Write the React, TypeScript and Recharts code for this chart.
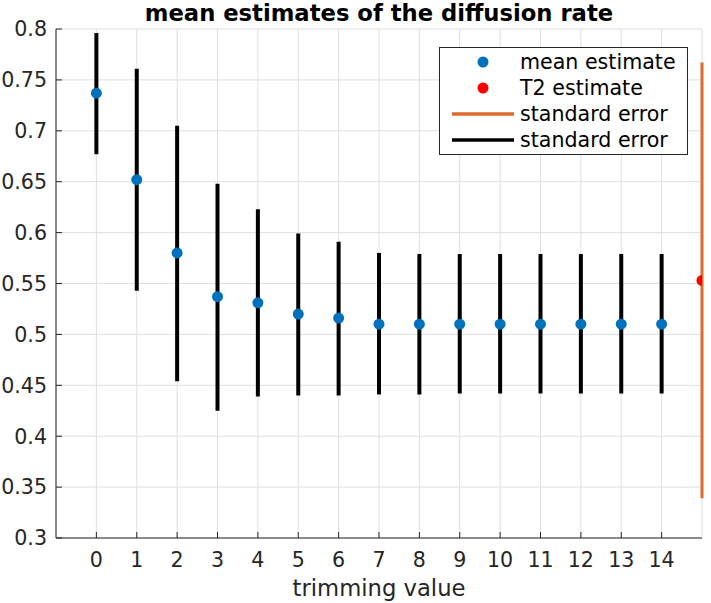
import React from 'react';
import { ComposedChart, Scatter, ErrorBar, XAxis, YAxis, CartesianGrid } from 'recharts';

// values
const trimming = [0, 1, 2, 3, 4, 5, 6, 7, 8, 9, 10, 11, 12, 13, 14];
const meanEstimate = [0.737, 0.652, 0.58, 0.537, 0.531, 0.52, 0.516, 0.51, 0.51, 0.51, 0.51, 0.51, 0.51, 0.51, 0.51];
const seLow = [0.677, 0.543, 0.454, 0.425, 0.439, 0.44, 0.44, 0.441, 0.441, 0.442, 0.442, 0.442, 0.442, 0.442, 0.442];
const seHigh = [0.796, 0.761, 0.705, 0.648, 0.623, 0.599, 0.591, 0.58, 0.579, 0.579, 0.579, 0.579, 0.579, 0.579, 0.579];

const t2Position = 15;
const t2Estimate = 0.553;
const t2Low = 0.339;
const t2High = 0.767;

const xTicks = [0, 1, 2, 3, 4, 5, 6, 7, 8, 9, 10, 11, 12, 13, 14];
const yTicks = [0.3, 0.35, 0.4, 0.45, 0.5, 0.55, 0.6, 0.65, 0.7, 0.75, 0.8];

const BLUE = '#0072BD';
const RED = '#FF0000';
const ORANGE = '#E06A2C';
const INK = '#262626';
const FONT = '"DejaVu Sans", sans-serif';
const TICK_SIZE = 20.6;
const LABEL_SIZE = 22.7;

const meanData = trimming.map((t, i) => ({
    x: t,
    y: meanEstimate[i],
    err: [meanEstimate[i] - seLow[i], seHigh[i] - meanEstimate[i]],
}));

const t2Data = [{ x: t2Position, y: t2Estimate, err: [t2Estimate - t2Low, t2High - t2Estimate] }];

const legendItems = [
    { label: 'mean estimate', kind: 'dot', color: BLUE },
    { label: 'T2 estimate', kind: 'dot', color: RED },
    { label: 'standard error', kind: 'line', color: ORANGE },
    { label: 'standard error', kind: 'line', color: '#000' },
];

const dot = (color: string) => (p: any) => <circle cx={p.cx} cy={p.cy} r={5.5} fill={color} />;
const nothing = () => <g />;

function LegendBox() {
    return (
        <div style={{
            position: 'absolute', left: 439, top: 47, width: 249, height: 108,
            border: `1px solid ${INK}`, background: '#fff', boxSizing: 'border-box',
            fontFamily: FONT, fontSize: TICK_SIZE, color: '#000'
        }}>
            {legendItems.map((it, i) => (
                <div key={i} style={{ position: 'absolute', left: 0, top: 1 + i * 26, height: 26, display: 'flex', alignItems: 'center', whiteSpace: 'nowrap' }}>
                    <svg width={80} height={26} style={{ display: 'block' }}>
                        {it.kind === 'dot'
                            ? <circle cx={43} cy={13} r={5.5} fill={it.color} />
                            : <line x1={12} x2={74} y1={13} y2={13} stroke={it.color} strokeWidth={3.5} />}
                    </svg>
                    <span>{it.label}</span>
                </div>
            ))}
        </div>
    );
}

export default function App() {
    return (
        <div style={{ position: 'absolute', left: 0, top: 0, width: 711, height: 603, background: '#fff' }}>
            <div style={{
                position: 'absolute', left: 56, width: 646, top: 0, textAlign: 'center', lineHeight: 'normal',
                fontFamily: FONT, fontWeight: 'bold', fontSize: LABEL_SIZE, color: '#000', whiteSpace: 'nowrap'
            }}>
                mean estimates of the diffusion rate
            </div>
            <ComposedChart width={711} height={603} margin={{ top: 29, right: 9, bottom: 0, left: 0 }}>
                <CartesianGrid stroke="#dfdfdf" strokeWidth={1} />
                <XAxis
                    type="number"
                    dataKey="x"
                    domain={[-1, 15]}
                    ticks={xTicks}
                    allowDataOverflow
                    height={65}
                    tickSize={-6}
                    tickMargin={20}
                    axisLine={{ stroke: INK }}
                    tickLine={{ stroke: INK }}
                    tick={{ fill: INK, fontSize: TICK_SIZE, fontFamily: FONT }}
                    label={{ value: 'trimming value', position: 'insideBottom', offset: 7, fill: INK, fontSize: LABEL_SIZE, fontFamily: FONT }}
                />
                <YAxis
                    type="number"
                    dataKey="y"
                    domain={[0.3, 0.8]}
                    ticks={yTicks}
                    allowDataOverflow
                    width={56}
                    tickSize={-6}
                    tickMargin={15}
                    axisLine={{ stroke: INK }}
                    tickLine={{ stroke: INK }}
                    tick={{ fill: INK, fontSize: TICK_SIZE, fontFamily: FONT }}
                />
                <Scatter data={meanData} dataKey="y" shape={dot(BLUE)} isAnimationActive={false} />
                <Scatter data={t2Data} dataKey="y" shape={dot(RED)} isAnimationActive={false} />
                <Scatter data={t2Data} dataKey="y" shape={nothing} isAnimationActive={false}>
                    <ErrorBar dataKey="err" direction="y" width={0} stroke={ORANGE} strokeWidth={3} isAnimationActive={false} />
                </Scatter>
                <Scatter data={meanData} dataKey="y" shape={nothing} isAnimationActive={false}>
                    <ErrorBar dataKey="err" direction="y" width={0} stroke="#000" strokeWidth={4} isAnimationActive={false} />
                </Scatter>
            </ComposedChart>
            <LegendBox />
        </div>
    );
}
